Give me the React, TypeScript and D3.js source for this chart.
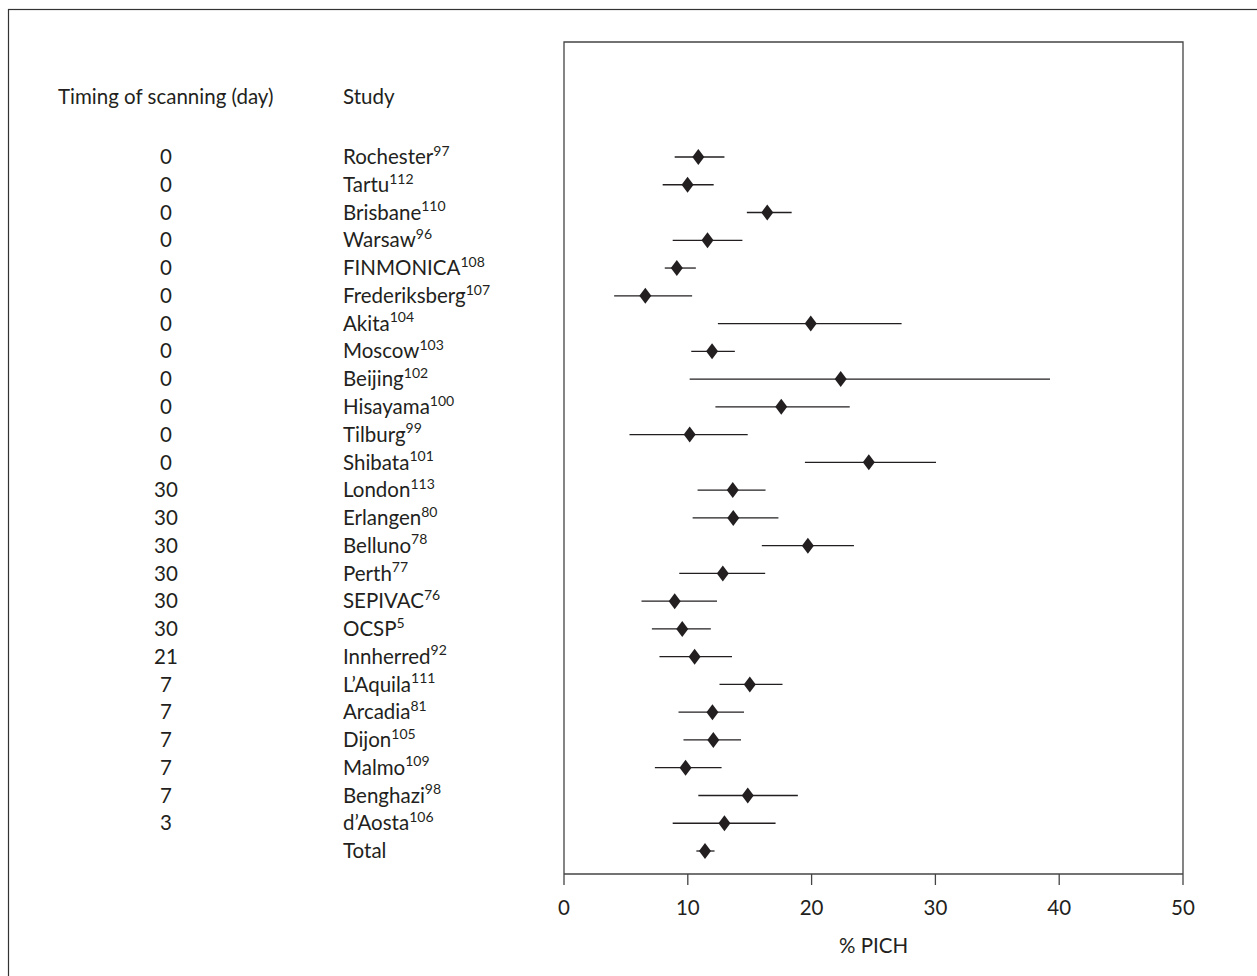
import React from "react";
import * as d3 from "d3";

const studies = ["Rochester","Tartu","Brisbane","Warsaw","FINMONICA","Frederiksberg","Akita","Moscow","Beijing","Hisayama","Tilburg","Shibata","London","Erlangen","Belluno","Perth","SEPIVAC","OCSP","Innherred","L\u2019Aquila","Arcadia","Dijon","Malmo","Benghazi","d\u2019Aosta","Total"];
const refs = ["97","112","110","96","108","107","104","103","102","100","99","101","113","80","78","77","76","5","92","111","81","105","109","98","106",""];
const timing = ["0","0","0","0","0","0","0","0","0","0","0","0","30","30","30","30","30","30","21","7","7","7","7","7","3",""];
const estimate = [10.85,9.98,16.42,11.59,9.11,6.57,19.93,11.96,22.35,17.55,10.15,24.62,13.63,13.67,19.70,12.83,8.94,9.55,10.55,15.01,11.99,12.06,9.82,14.84,12.96,11.39];
const lower = [8.94,7.97,14.77,8.78,8.14,4.05,12.43,10.28,10.15,12.23,5.29,19.46,10.79,10.39,15.98,9.31,6.26,7.10,7.71,12.56,9.25,9.65,7.34,10.85,8.78,10.69];
const upper = [12.96,12.09,18.39,14.41,10.65,10.35,27.27,13.80,39.26,23.08,14.84,30.05,16.28,17.32,23.42,16.25,12.36,11.86,13.57,17.65,14.54,14.30,12.73,18.89,17.09,12.16];
const xTicks = [0,10,20,30,40,50];

const FONT = "Lato, 'Open Sans', sans-serif";
const FS = 20.5;

export default function App() {
  const W = 1257, H = 976;
  const plot = { left: 564, right: 1183, top: 42, bottom: 874 };
  const x = d3.scaleLinear().domain([0, 50]).range([plot.left, plot.right]);
  const y = d3.scalePoint<string>().domain(studies).range([157, 851]);
  const diamond = (cx: number, cy: number) => `M${cx},${cy - 8}L${cx + 6},${cy}L${cx},${cy + 8}L${cx - 6},${cy}Z`;
  return (
    <svg width={W} height={H} style={{ position: "fixed", left: 0, top: 0, background: "#fff" }} fontFamily={FONT}>
      <rect x={8.5} y={9.5} width={1300} height={1000} fill="none" stroke="#333" strokeWidth={1.2} />
      <text x={58} y={104} fontSize={FS} fill="#231f20">Timing of scanning (day)</text>
      <text x={343} y={104} fontSize={FS} fill="#231f20">Study</text>
      {studies.map((s, i) => {
        const cy = y(s)!;
        return (
          <g key={s}>
            <text x={166} y={cy} dy="0.35em" textAnchor="middle" fontSize={FS} fill="#231f20">{timing[i]}</text>
            <text x={343} y={cy} dy="0.35em" fontSize={FS} fill="#231f20">
              {s}
              {refs[i] && <tspan fontSize={14} dy="-0.6em">{refs[i]}</tspan>}
            </text>
            <line x1={x(lower[i])} x2={x(upper[i])} y1={cy} y2={cy} stroke="#231f20" strokeWidth={1.3} />
            <path d={diamond(x(estimate[i]), cy)} fill="#231f20" />
          </g>
        );
      })}
      <path d={`M${plot.left},${plot.bottom}V${plot.top}H${plot.right}V${plot.bottom}`} fill="none" stroke="#444" strokeWidth={1.3} />
      <line x1={plot.left} x2={plot.right} y1={plot.bottom} y2={plot.bottom} stroke="#444" strokeWidth={1.3} />
      {xTicks.map(t => (
        <g key={t}>
          <line x1={x(t)} x2={x(t)} y1={plot.bottom} y2={plot.bottom + 11} stroke="#444" strokeWidth={1.3} />
          <text x={x(t)} y={908} dy="0.35em" textAnchor="middle" fontSize={FS} fill="#231f20">{t}</text>
        </g>
      ))}
      <text x={(plot.left + plot.right) / 2} y={946} dy="0.35em" textAnchor="middle" fontSize={FS} fill="#231f20">% PICH</text>
    </svg>
  );
}
